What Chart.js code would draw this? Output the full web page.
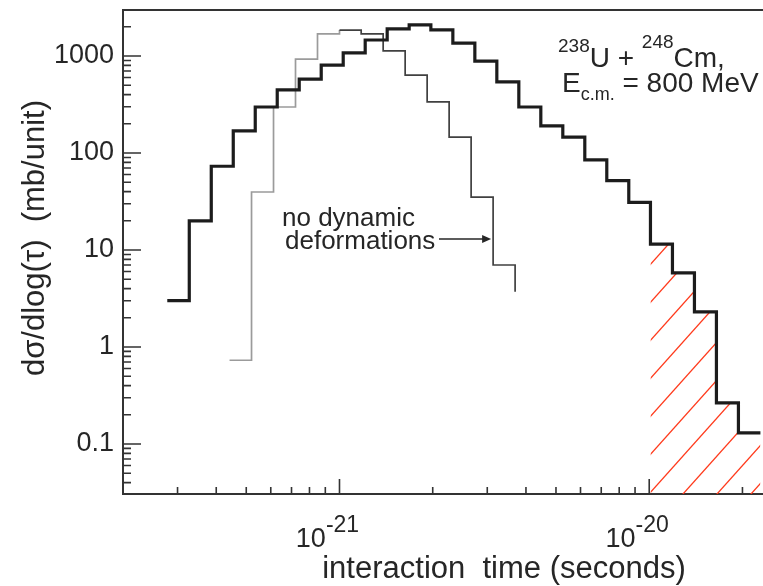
<!DOCTYPE html>
<html>
<head>
<meta charset="utf-8">
<script src="https://cdn.jsdelivr.net/npm/chart.js@4.4.1/dist/chart.umd.min.js"></script>
<style>
  html, body { margin: 0; padding: 0; background: #fff; }
  #wrap { width: 763px; height: 586px; }
</style>
</head>
<body>
<div id="wrap"><canvas id="chart" width="763" height="586"></canvas></div>
<script>
// histogram bin edges are log10(tau / s), values in mb/unit
const fullEdges = [
  -21.556, -21.485, -21.414, -21.343, -21.272, -21.201, -21.130, -21.059,
  -20.988, -20.917, -20.846, -20.775, -20.705, -20.634, -20.563, -20.492,
  -20.421, -20.350, -20.279, -20.208, -20.137, -20.066, -19.996, -19.925,
  -19.854, -19.783, -19.712, -19.641
];
const fullValues = [
  3.0, 20, 73, 169, 298, 447, 577, 807, 1075, 1462, 1900, 2090, 1860, 1360,
  887, 540, 298, 190, 146, 85, 52, 31, 11.5, 5.8, 2.3, 0.265, 0.13
];

// "no dynamic deformations" run
const staticEdges = [
  -21.355, -21.284, -21.213, -21.142, -21.071, -21.000, -20.930,
  -20.859, -20.788, -20.717, -20.646, -20.575, -20.504, -20.433
];
const staticValues = [0.73, 39.6, 298, 930, 1690, 1850, 1690, 1130, 635, 336, 146, 35, 7.0];
const staticTail = 3.7;

// hatched part of the full histogram starts at this bin (tau = 1e-20 s)
const hatchFromBin = 22;

const yTickValues = [0.1, 1, 10, 100, 1000];
const yTickLabels = ["0.1", "1", "10", "100", "1000"];
const xTickValues = [1e-21, 1e-20];
const xTickExponents = ["-21", "-20"];

const X_MIN = 2e-22, X_MAX = 2.33e-20;
const Y_MIN = 0.0305, Y_MAX = 2980;

const INK = "#262626";
const AXIS = "#333333";
const FONT = "'Liberation Sans', Arial, Helvetica, sans-serif";

function stepPoints(edges, values) {
  const pts = values.map((v, i) => ({ x: Math.pow(10, edges[i]), y: v }));
  pts.push({ x: Math.pow(10, edges[values.length]), y: values[values.length - 1] });
  return pts;
}

const fullPoints = stepPoints(fullEdges, fullValues);
const staticPoints = staticValues.map((v, i) => ({ x: Math.pow(10, staticEdges[i]), y: v }));
staticPoints.push({ x: Math.pow(10, staticEdges[staticValues.length]), y: staticTail });
const hatchPoints = fullPoints.slice(hatchFromBin);

function hatchPattern() {
  const w = 34, h = 38;
  const c = document.createElement("canvas");
  c.width = w; c.height = h;
  const g = c.getContext("2d");
  g.strokeStyle = "#ff3a1c";
  g.lineWidth = 1.3;
  for (const dy of [-h, 0, h]) {
    g.beginPath();
    g.moveTo(-1, h + dy + h / w);
    g.lineTo(w + 1, dy - h / w);
    g.stroke();
  }
  const pat = g.createPattern(c, "repeat");
  pat.setTransform(new DOMMatrix().translate(3, 0));
  return pat;
}

function isDecadeTick(v) {
  const e = Math.floor(Math.log10(v) + 1e-9);
  const m = v / Math.pow(10, e);
  const r = Math.round(m);
  if (Math.abs(m - r) > 1e-4 || r < 1 || r > 9) return null;
  return r === 1 ? "major" : "minor";
}

// frame top, inward ticks, x labels with exponents, axis titles and notes
const frameAndNotes = {
  id: "frameAndNotes",
  afterDraw(chart) {
    const { ctx, chartArea: a, scales: { x, y } } = chart;
    ctx.save();
    ctx.strokeStyle = AXIS;
    ctx.lineWidth = 2;
    ctx.beginPath();
    ctx.moveTo(a.left - 1, a.top);
    ctx.lineTo(a.right, a.top);
    ctx.stroke();

    ctx.lineWidth = 1.6;
    ctx.beginPath();
    for (const t of y.ticks) {
      const kind = isDecadeTick(t.value);
      if (!kind) continue;
      const py = y.getPixelForValue(t.value);
      if (py < a.top + 1 || py > a.bottom - 1) continue;
      ctx.moveTo(a.left, py);
      ctx.lineTo(a.left + (kind === "major" ? 18 : 8), py);
    }
    for (const t of x.ticks) {
      const kind = isDecadeTick(t.value);
      if (!kind) continue;
      const px = x.getPixelForValue(t.value);
      if (px < a.left + 1 || px > a.right - 1) continue;
      ctx.moveTo(px, a.bottom);
      ctx.lineTo(px, a.bottom - (kind === "major" ? 15 : 7));
    }
    ctx.stroke();

    // x tick labels: 10 with a raised exponent
    ctx.fillStyle = INK;
    ctx.textBaseline = "alphabetic";
    ctx.textAlign = "left";
    xTickValues.forEach((v, i) => {
      const px = x.getPixelForValue(v);
      ctx.font = "27px " + FONT;
      const w1 = ctx.measureText("10").width;
      ctx.font = "23px " + FONT;
      const w2 = ctx.measureText(xTickExponents[i]).width;
      const left = px - 12 - (w1 + w2) / 2;
      ctx.font = "27px " + FONT;
      ctx.fillText("10", left, a.bottom + 53);
      ctx.font = "23px " + FONT;
      ctx.fillText(xTickExponents[i], left + w1, a.bottom + 38);
    });

    // axis titles
    ctx.font = "31px " + FONT;
    ctx.textAlign = "center";
    ctx.fillText("interaction  time (seconds)", 504, 578);
    ctx.save();
    ctx.translate(44, 238);
    ctx.rotate(-Math.PI / 2);
    ctx.fillText("d\u03c3/dlog(\u03c4)  (mb/unit)", 0, 0);
    ctx.restore();

    // reaction label
    ctx.textAlign = "left";
    const parts1 = [["238", 19, 52], ["U", 28, 67], [" + ", 28, 67], ["248", 19, 48], ["Cm,", 28, 67]];
    let cx = 558;
    for (const [s, size, base] of parts1) {
      ctx.font = size + "px " + FONT;
      ctx.fillText(s, cx, base);
      cx += ctx.measureText(s).width;
    }
    const parts2 = [["E", 28, 92], ["c.m.", 18, 100], [" = 800 MeV", 28, 92]];
    cx = 562;
    for (const [s, size, base] of parts2) {
      ctx.font = size + "px " + FONT;
      ctx.fillText(s, cx, base);
      cx += ctx.measureText(s).width;
    }

    // note with arrow pointing at the static curve
    ctx.font = "26px " + FONT;
    ctx.fillText("no dynamic", 282, 226);
    ctx.fillText("deformations", 285, 249);
    const tipX = x.getPixelForValue(Math.pow(10, staticEdges[12])) - 2;
    const ay = 239;
    ctx.strokeStyle = INK;
    ctx.lineWidth = 1.6;
    ctx.beginPath();
    ctx.moveTo(439, ay);
    ctx.lineTo(tipX - 7, ay);
    ctx.stroke();
    ctx.beginPath();
    ctx.moveTo(tipX, ay);
    ctx.lineTo(tipX - 9, ay - 4);
    ctx.lineTo(tipX - 9, ay + 4);
    ctx.closePath();
    ctx.fill();
    ctx.restore();
  }
};

const ctx = document.getElementById("chart");

new Chart(ctx, {
  type: "line",
  data: {
    datasets: [
      {
        label: "full",
        data: fullPoints,
        stepped: true,
        borderColor: "#1c1c1c",
        borderWidth: 3.2,
        borderJoinStyle: "miter",
        pointRadius: 0,
        fill: false,
      },
      {
        label: "no dynamic deformations",
        data: staticPoints,
        stepped: true,
        borderColor: "#404040",
        borderWidth: 1.7,
        borderJoinStyle: "miter",
        pointRadius: 0,
        fill: false,
        segment: {
          borderColor: (c) => (c.p0.parsed.x < 0.999e-21 ? "#9b9b9b" : "#404040"),
        },
      },
      {
        label: "hatched",
        data: hatchPoints,
        stepped: true,
        borderWidth: 0,
        borderColor: "rgba(0,0,0,0)",
        backgroundColor: hatchPattern(),
        pointRadius: 0,
        fill: "start",
      },
    ],
  },
  options: {
    responsive: false,
    devicePixelRatio: 1,
    animation: false,
    events: [],
    layout: { padding: { left: 0, right: 0, top: 10, bottom: 0 } },
    plugins: {
      legend: { display: false },
      tooltip: { enabled: false },
    },
    scales: {
      x: {
        type: "logarithmic",
        min: X_MIN,
        max: X_MAX,
        grid: { display: true, drawOnChartArea: false, drawTicks: false },
        border: { display: true, color: AXIS, width: 2 },
        ticks: { display: false, autoSkip: false },
        afterFit: (s) => {
          s.height = 92;
          s.paddingLeft = 0;
          s.paddingRight = 0;
        },
      },
      y: {
        type: "logarithmic",
        min: Y_MIN,
        max: Y_MAX,
        grid: { display: true, drawOnChartArea: false, drawTicks: false },
        border: { display: true, color: AXIS, width: 2 },
        ticks: {
          autoSkip: false,
          padding: 9,
          color: INK,
          font: { family: FONT, size: 27 },
          callback: (value) => {
            const i = yTickValues.findIndex((t) => Math.abs(t - value) / t < 1e-6);
            return i >= 0 ? yTickLabels[i] : "";
          },
        },
        afterFit: (s) => {
          s.width = 123;
          s.paddingTop = 0;
          s.paddingBottom = 0;
        },
      },
    },
  },
  plugins: [frameAndNotes],
});
</script>
</body>
</html>
